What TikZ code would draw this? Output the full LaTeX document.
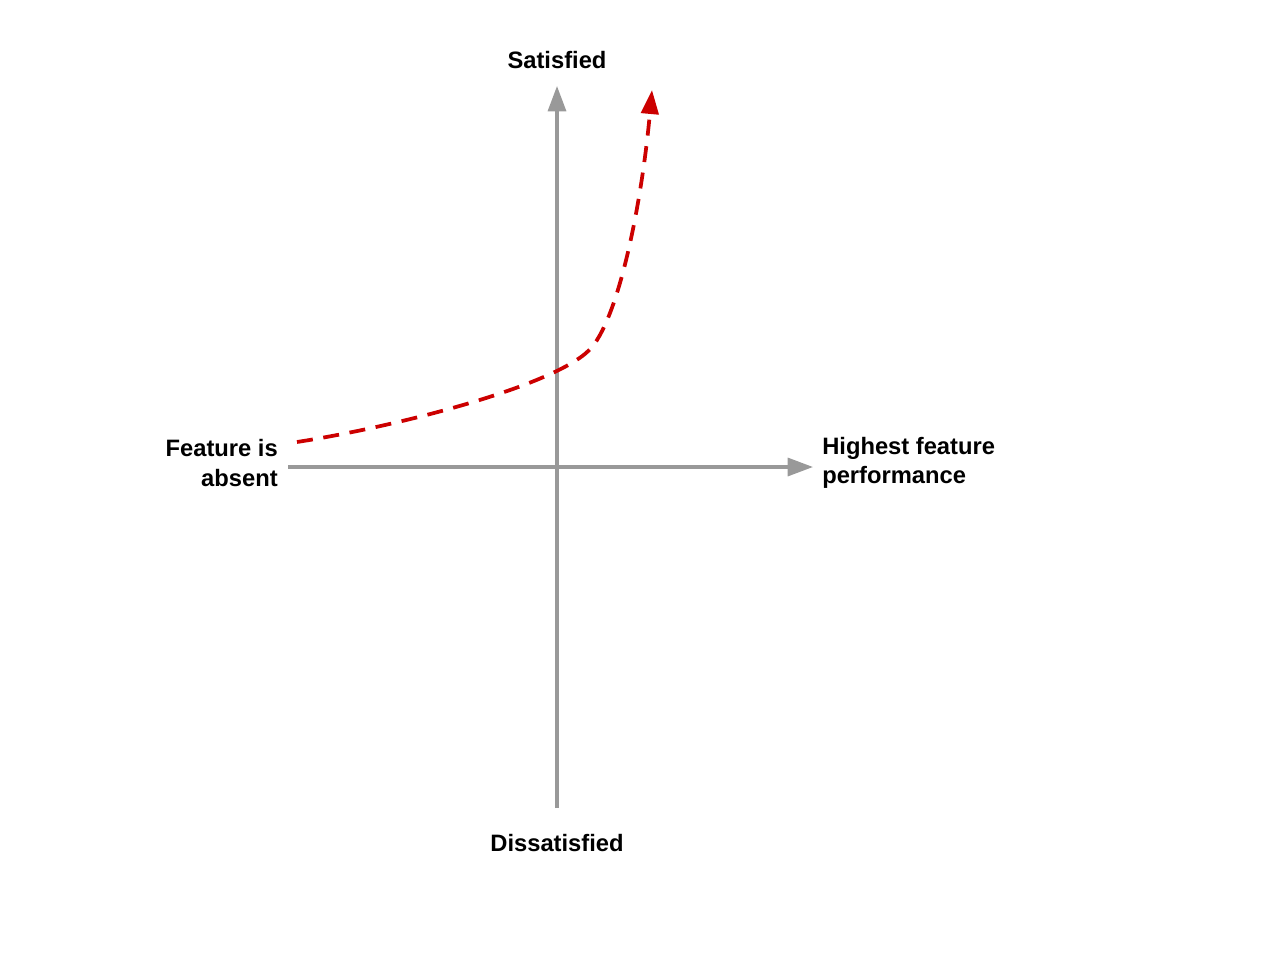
\documentclass[tikz,border=0pt]{standalone}
\usepackage{fontspec}
\setmainfont{Liberation Sans}
\usetikzlibrary{arrows.meta}
\definecolor{axisgray}{HTML}{999999}
\definecolor{curvered}{HTML}{CC0000}
\begin{document}
\begin{tikzpicture}[x=0.75pt,y=-0.75pt,
	every node/.style = {font=\fontsize{17.8}{21.8}\selectfont\bfseries, inner sep=0pt},
	axis/.style = {axisgray, line width=2.4pt, -{Triangle[length=19pt,width=13.5pt]}},
	trend/.style = {curvered, line width=2.8pt, dash pattern=on 12pt off 8pt, -{Triangle[length=18pt,width=13pt]}}]

\fill[white] (0,0) rectangle (1280,960);
\useasboundingbox (0,0) rectangle (1280,960);

\coordinate (xstart) at (288,467);
\coordinate (xend) at (813,467);
\coordinate (ystart) at (557,808);
\coordinate (yend) at (557,86);
\coordinate (cstart) at (297,442);
\coordinate (cbend) at (592,347);
\coordinate (cend) at (652,90);

\node (sat) at (557,60) {Satisfied};
\node (dis) at (557,843) {Dissatisfied};
\node[anchor=east, align=right] (absent) at (278,463) {Feature is\\absent};
\node[anchor=west, align=left] (high) at (822,463) {Highest feature\\performance};

% axes
\draw[axis] (xstart) -- (xend);
\draw[axis] (ystart) -- (yend);

% curve
\draw[trend] (cstart) .. controls (400,426) and (562,384) .. (cbend)
	.. controls (620,313) and (642,200) .. (cend);
\end{tikzpicture}
\end{document}
